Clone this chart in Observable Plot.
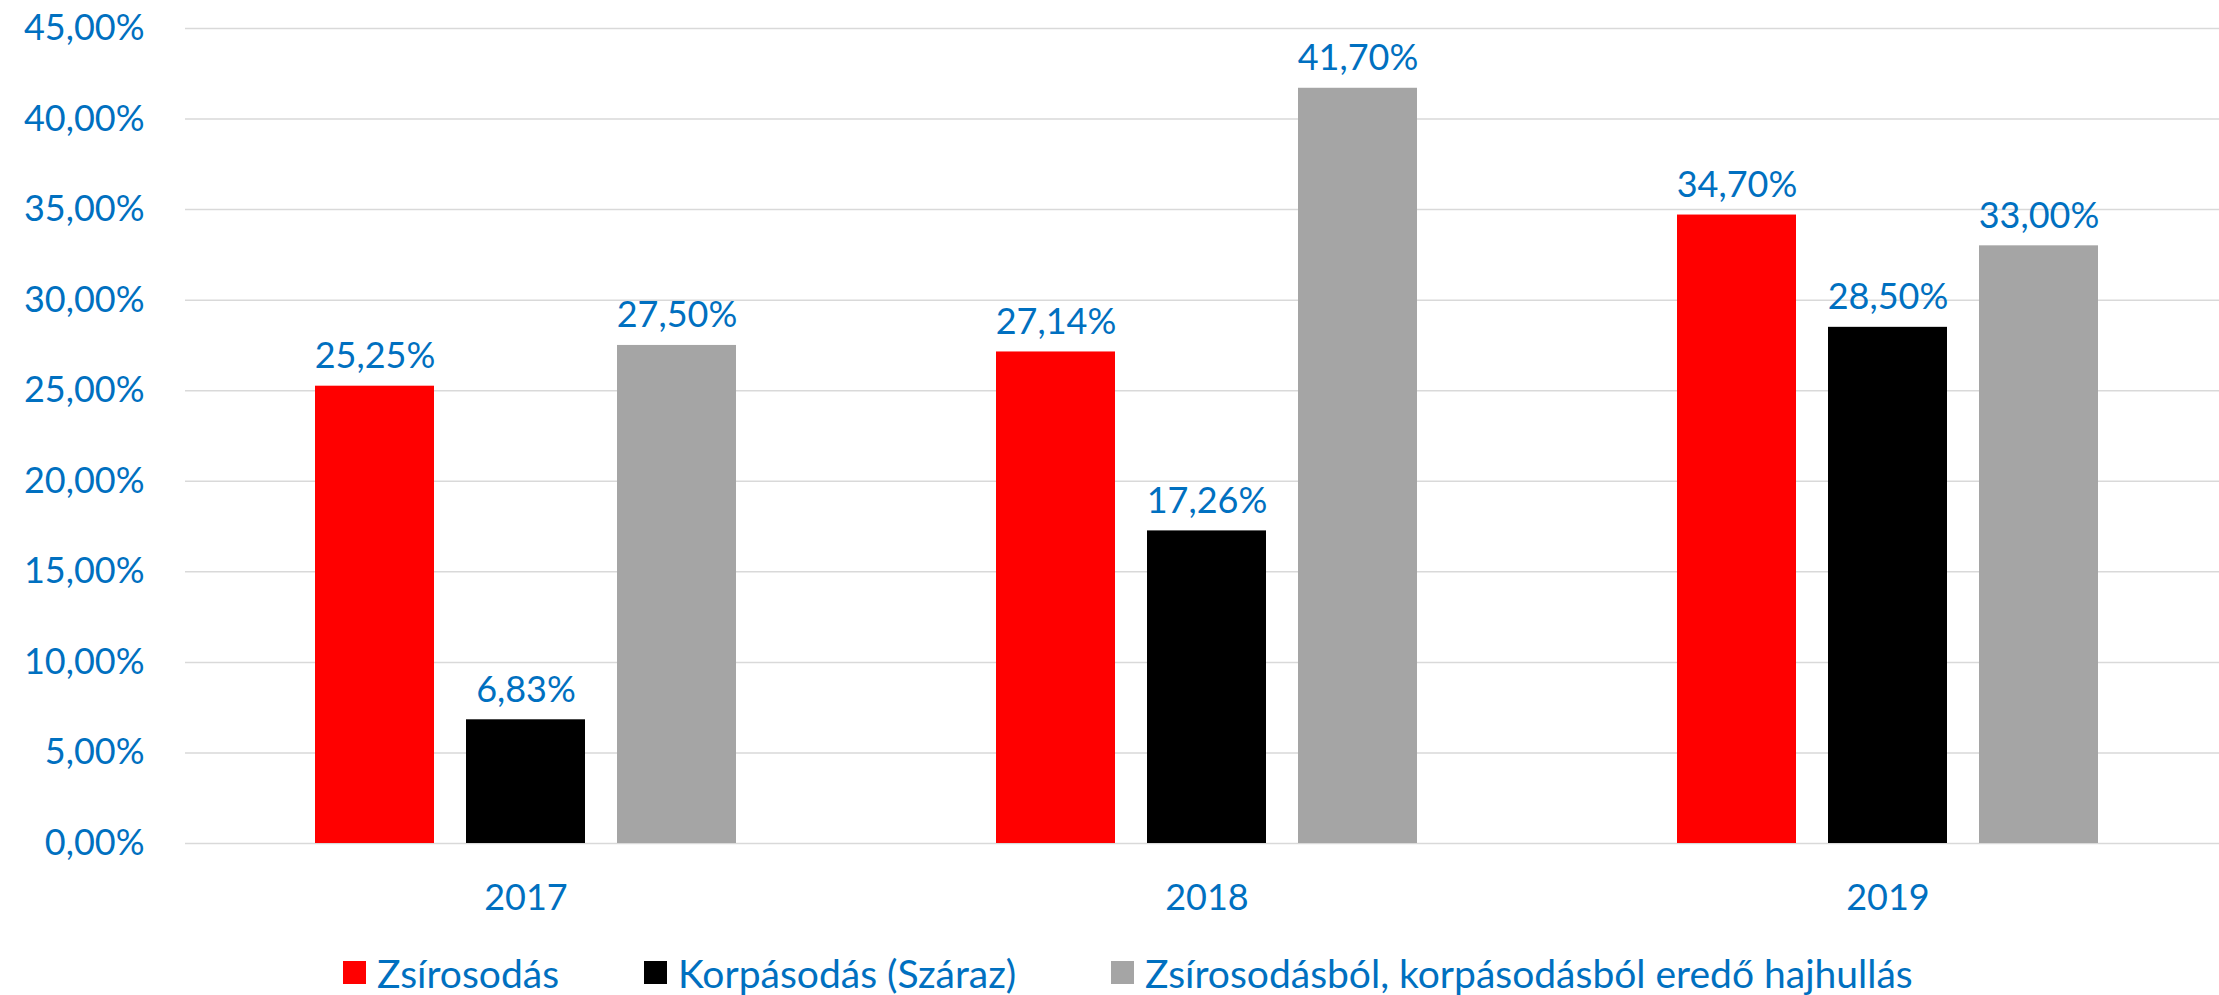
<!DOCTYPE html>
<html>
<head>
<meta charset="utf-8">
<script src="https://cdn.jsdelivr.net/npm/d3@7"></script>
<script src="https://cdn.jsdelivr.net/npm/@observablehq/plot@0.6"></script>
<style>
  html, body { margin: 0; padding: 0; background: #fff; overflow: hidden; }
  #chart svg { display: block; }
  #legend { position: relative; height: 55px; font-family: Lato, sans-serif; font-size: 39px; color: #0070C0; }
  .item { position: absolute; top: 0; height: 55px; display: flex; align-items: center; padding-top: 10px; box-sizing: border-box; white-space: nowrap; }
  .sw { width: 23px; height: 23px; margin-right: 11px; }
</style>
</head>
<body>
<div id="chart"></div>
<div id="legend"></div>
<script>
const years = ["2017", "2018", "2019"];
const seriesNames = ["Zsírosodás", "Korpásodás (Száraz)", "Zsírosodásból, korpásodásból eredő hajhullás"];
const zsirosodas = [0.2525, 0.2714, 0.3470];
const korpasodas = [0.0683, 0.1726, 0.2850];
const hajhullas = [0.2750, 0.4170, 0.3300];
const seriesColors = ["#FF0000", "#000000", "#A5A5A5"];
const yTicks = [0, 0.05, 0.10, 0.15, 0.20, 0.25, 0.30, 0.35, 0.40, 0.45];
const legendLeft = [343, 644, 1111];

const seriesValues = [zsirosodas, korpasodas, hajhullas];
const data = [];
years.forEach((yr, i) => {
  seriesNames.forEach((s, j) => data.push({year: yr, series: s, value: seriesValues[j][i]}));
});

const locale = d3.formatLocale({decimal: ",", thousands: " ", grouping: [3], currency: ["", ""], percent: "%"});
const fmt = locale.format(".2%");

const chart = Plot.plot({
  width: 2219,
  height: 940,
  marginTop: 28,
  marginBottom: 97,
  marginLeft: 184,
  marginRight: -10,
  style: {fontFamily: "Lato, sans-serif", fontSize: "36px", color: "#0070C0", background: "white"},
  fx: {domain: years, padding: 0, axis: "bottom", tickSize: 0, tickPadding: 41, label: null},
  x: {domain: seriesNames, axis: null, paddingInner: 0.2145, paddingOuter: 0.858},
  y: {domain: [0, 0.45], ticks: yTicks, tickFormat: fmt, tickSize: 0, tickPadding: 41, label: null},
  color: {domain: seriesNames, range: seriesColors},
  marks: [
    Plot.ruleY(yTicks, {stroke: "#d9d9d9", strokeWidth: 1.5}),
    Plot.barY(data, {fx: "year", x: "series", y: "value", fill: "series"}),
    Plot.text(data, {fx: "year", x: "series", y: "value", text: d => fmt(d.value), lineAnchor: "bottom", dy: -18, fill: "#0070C0", fontSize: 36})
  ]
});
document.getElementById("chart").appendChild(chart);

const legend = document.getElementById("legend");
seriesNames.forEach((s, i) => {
  const it = document.createElement("div");
  it.className = "item";
  it.style.left = legendLeft[i] + "px";
  const sw = document.createElement("span");
  sw.className = "sw";
  sw.style.background = seriesColors[i];
  const tx = document.createElement("span");
  tx.textContent = s;
  it.appendChild(sw);
  it.appendChild(tx);
  legend.appendChild(it);
});
</script>
</body>
</html>
